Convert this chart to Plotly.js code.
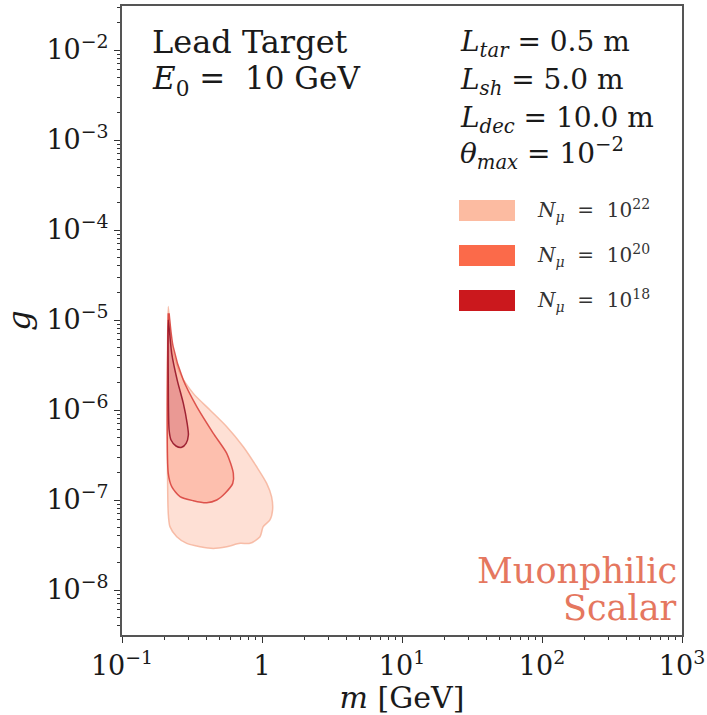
<!DOCTYPE html>
<html>
<head>
<meta charset="utf-8">
<script src="https://cdn.plot.ly/plotly-3.0.1.min.js"></script>
<style>html,body{margin:0;padding:0;background:#fff;}#chart{width:707px;height:715px;}</style>
</head>
<body>
<div id="chart"></div>
<script>
// N_mu = 1e22 contour (mass in GeV, coupling g)
const massN22 = [0.214, 0.2265, 0.2595, 0.323, 0.425, 0.560, 0.735, 0.916, 1.08, 1.17, 1.19, 1.14, 1.02, 0.968, 0.821, 0.697, 0.560, 0.449, 0.361, 0.290, 0.246, 0.220, 0.214, 0.214];
const gN22    = [1.41e-5, 5.05e-6, 2.56e-6, 1.53e-6, 1.0e-6, 6.52e-7, 3.91e-7, 2.34e-7, 1.53e-7, 1.09e-7, 7.74e-8, 6.0e-8, 5.06e-8, 3.91e-8, 3.30e-8, 3.30e-8, 3.03e-8, 2.90e-8, 3.03e-8, 3.30e-8, 3.91e-8, 5.06e-8, 7.11e-8, 1.41e-5];
// N_mu = 1e20 contour
const massN20 = [0.217, 0.232, 0.274, 0.342, 0.449, 0.560, 0.624, 0.618, 0.545, 0.475, 0.403, 0.323, 0.2595, 0.2265, 0.214, 0.214];
const gN20    = [1.19e-5, 5.05e-6, 2.15e-6, 1.09e-6, 5.51e-7, 3.30e-7, 1.98e-7, 1.53e-7, 1.19e-7, 1.0e-7, 9.33e-8, 9.82e-8, 1.09e-7, 1.41e-7, 1.98e-7, 1.19e-5];
// N_mu = 1e18 contour
const massN18 = [0.214, 0.2265, 0.248, 0.274, 0.292, 0.298, 0.287, 0.267, 0.243, 0.224, 0.217, 0.214, 0.214];
const gN18    = [1.0e-5, 4.26e-6, 2.15e-6, 1.19e-6, 7.11e-7, 5.28e-7, 4.26e-7, 3.85e-7, 3.98e-7, 4.64e-7, 6.0e-7, 2.15e-6, 1.0e-5];

const seriesLabels = ["N22", "N20", "N18"];
const xTickVals = [0.1, 1, 10, 100, 1000];
const xTickText = ["10<sup>\u22121</sup>", "1", "10<sup>1</sup>", "10<sup>2</sup>", "10<sup>3</sup>"];
const yTickVals = [1e-8, 1e-7, 1e-6, 1e-5, 1e-4, 1e-3, 1e-2];
const yTickText = ["10<sup>\u22128</sup>", "10<sup>\u22127</sup>", "10<sup>\u22126</sup>", "10<sup>\u22125</sup>", "10<sup>\u22124</sup>", "10<sup>\u22123</sup>", "10<sup>\u22122</sup>"];

const serif = "DejaVu Serif, serif";

function region(x, y, fill, line) {
  return {x: x, y: y, type: "scatter", mode: "lines", fill: "toself",
    fillcolor: fill, line: {color: line, width: 1.5, shape: "spline", smoothing: 0.7},
    showlegend: false, hoverinfo: "skip"};
}

const data = [
  region(massN22, gN22, "rgba(252,187,161,0.45)", "rgba(245,175,150,0.8)"),
  region(massN20, gN20, "rgba(251,106,74,0.28)", "rgba(215,60,55,0.85)"),
  region(massN18, gN18, "rgba(180,40,70,0.25)", "rgba(150,20,40,0.9)")
];

const legendColors = ["#fcbba1", "#fb6a4a", "#cb181d"];
const legendExp = ["22", "20", "18"];
const shapes = [];
const annotations = [];
const legTop = [200, 245, 290];
for (let i = 0; i < 3; i++) {
  const y0 = (635 - legTop[i]) / 629, y1 = (635 - legTop[i] - 21) / 629;
  shapes.push({type: "rect", xref: "paper", yref: "paper", x0: (459 - 122) / 560, x1: (515 - 122) / 560,
    y0: y1, y1: y0, fillcolor: legendColors[i], line: {width: 0}});
  annotations.push({xref: "paper", yref: "paper", x: (535 - 122) / 560, y: (y0 + y1) / 2,
    xanchor: "left", yanchor: "middle", showarrow: false,
    text: "<i>N</i><sub><i>\u03bc</i></sub>\u00a0 =\u00a0 10<sup>" + legendExp[i] + "</sup>",
    font: {family: serif, size: 20, color: "#333"}});
}
function txt(t, px, py, size, anchor, color) {
  annotations.push({xref: "paper", yref: "paper", x: (px - 122) / 560, y: (635 - py) / 629,
    xanchor: anchor, yanchor: "middle", showarrow: false, text: t,
    font: {family: serif, size: size, color: color || "#1a1a1a"}});
}
txt("Lead Target", 150, 42, 32, "left");
txt("<i>E</i><sub>0</sub> =\u00a0 10 GeV", 150, 80, 31, "left");
txt("<i>L</i><sub><i>tar</i></sub> = 0.5 m", 458, 43, 28, "left");
txt("<i>L</i><sub><i>sh</i></sub> = 5.0 m", 458, 81, 28, "left");
txt("<i>L</i><sub><i>dec</i></sub> = 10.0 m", 458, 119, 28, "left");
txt("<i>\u03b8</i><sub><i>max</i></sub> = 10<sup>\u22122</sup>", 458, 153, 28, "left");
txt("Muonphilic", 679, 571, 35, "right", "#e5775f");
txt("Scalar", 679, 608, 35, "right", "#e5775f");

const layout = {
  width: 707, height: 715,
  margin: {l: 122, r: 25, t: 6, b: 80},
  paper_bgcolor: "#fff", plot_bgcolor: "#fff",
  showlegend: false,
  font: {family: serif, color: "#1a1a1a"},
  xaxis: {type: "log", range: [-1, 3], tickvals: xTickVals, ticktext: xTickText,
    ticks: "outside", ticklen: 6, tickcolor: "#333", tickfont: {size: 27, family: serif},
    showline: true, mirror: true, linecolor: "#555", linewidth: 2, showgrid: false, zeroline: false,
    minor: {ticks: "outside", ticklen: 3, tickcolor: "#333", dtick: "D1", showgrid: false},
    title: {text: "<i>m</i> [GeV]", font: {size: 30, family: serif}, standoff: 2}},
  yaxis: {type: "log", range: [-8.5, -1.511], tickvals: yTickVals, ticktext: yTickText,
    ticks: "outside", ticklen: 6, tickcolor: "#333", tickfont: {size: 27, family: serif},
    showline: true, mirror: true, linecolor: "#555", linewidth: 2, showgrid: false, zeroline: false,
    minor: {ticks: "outside", ticklen: 3, tickcolor: "#333", dtick: "D1", showgrid: false},
    title: {text: "<i>g</i>", font: {size: 32, family: serif}, standoff: 6}},
  shapes: shapes,
  annotations: annotations
};

Plotly.newPlot("chart", data, layout, {displayModeBar: false, staticPlot: true});
</script>
</body>
</html>
